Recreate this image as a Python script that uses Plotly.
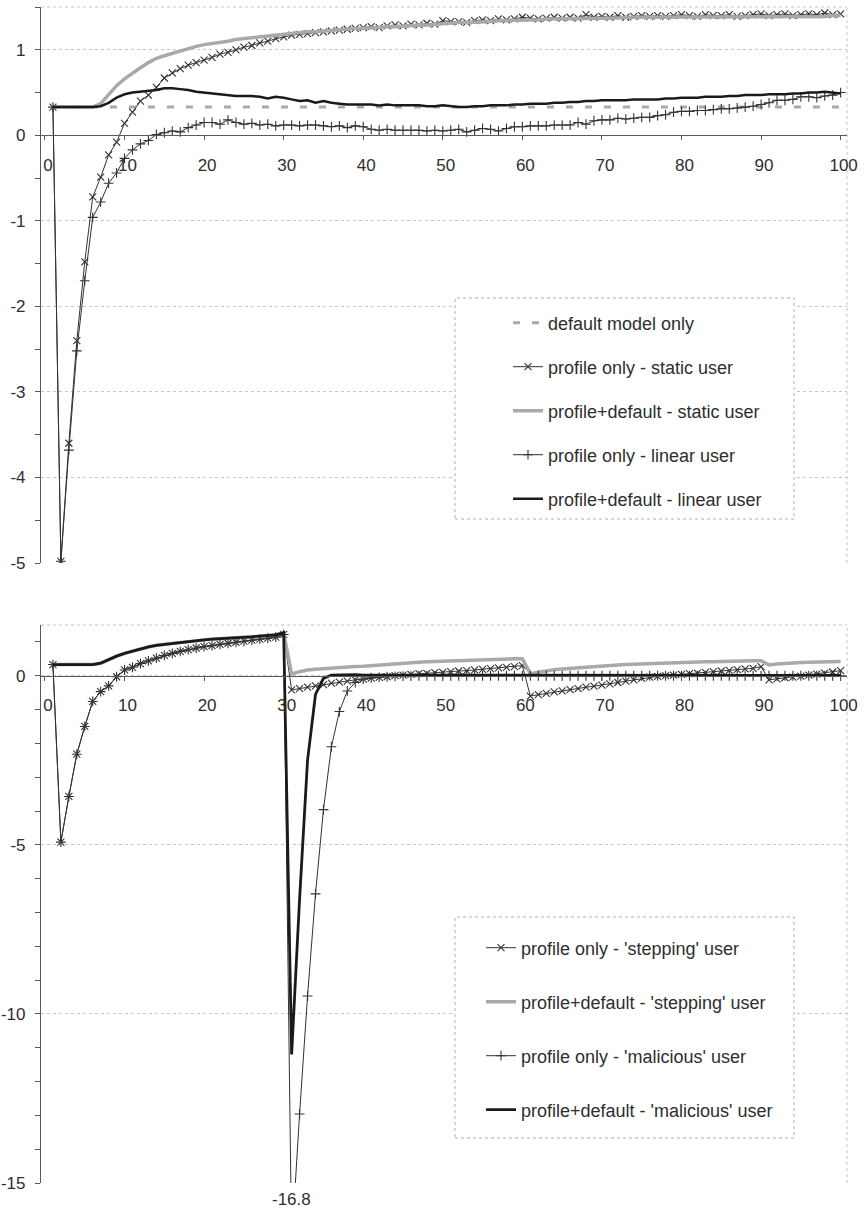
import plotly.graph_objects as go

# ---------------- data ----------------
x_steps = list(range(1, 101))
x_tick_vals = [0, 10, 20, 30, 40, 50, 60, 70, 80, 90, 100]
x_tick_text = ["0", "10", "20", "30", "40", "50", "60", "70", "80", "90", "100"]
top_y_tick_vals = [-5, -4, -3, -2, -1, 0, 1]
top_y_tick_text = ["-5", "-4", "-3", "-2", "-1", "0", "1"]
bot_y_tick_vals = [-15, -10, -5, 0]
bot_y_tick_text = ["-15", "-10", "-5", "0"]

# top chart
default_model_only = [
    0.33, 0.33, 0.33, 0.33, 0.33, 0.33, 0.33, 0.33, 0.33, 0.33,
    0.33, 0.33, 0.33, 0.33, 0.33, 0.33, 0.33, 0.33, 0.33, 0.33,
    0.33, 0.33, 0.33, 0.33, 0.33, 0.33, 0.33, 0.33, 0.33, 0.33,
    0.33, 0.33, 0.33, 0.33, 0.33, 0.33, 0.33, 0.33, 0.33, 0.33,
    0.33, 0.33, 0.33, 0.33, 0.33, 0.33, 0.33, 0.33, 0.33, 0.33,
    0.33, 0.33, 0.33, 0.33, 0.33, 0.33, 0.33, 0.33, 0.33, 0.33,
    0.33, 0.33, 0.33, 0.33, 0.33, 0.33, 0.33, 0.33, 0.33, 0.33,
    0.33, 0.33, 0.33, 0.33, 0.33, 0.33, 0.33, 0.33, 0.33, 0.33,
    0.33, 0.33, 0.33, 0.33, 0.33, 0.33, 0.33, 0.33, 0.33, 0.33,
    0.33, 0.33, 0.33, 0.33, 0.33, 0.33, 0.33, 0.33, 0.33, 0.33,
]
profile_static = [
    0.33, -4.98, -3.60, -2.40, -1.48, -0.72, -0.49, -0.23, -0.08, 0.14,
    0.27, 0.40, 0.47, 0.56, 0.67, 0.73, 0.78, 0.82, 0.85, 0.88,
    0.91, 0.95, 0.97, 1.00, 1.03, 1.05, 1.08, 1.10, 1.13, 1.15,
    1.17, 1.18, 1.19, 1.20, 1.21, 1.22, 1.23, 1.24, 1.25, 1.26,
    1.27, 1.26, 1.28, 1.29, 1.28, 1.30, 1.29, 1.31, 1.30, 1.34,
    1.33, 1.33, 1.32, 1.34, 1.35, 1.34, 1.36, 1.35, 1.36, 1.38,
    1.37, 1.36, 1.37, 1.38, 1.37, 1.38, 1.37, 1.41, 1.38, 1.39,
    1.38, 1.40, 1.38, 1.39, 1.40, 1.39, 1.40, 1.39, 1.40, 1.41,
    1.40, 1.39, 1.41, 1.40, 1.40, 1.41, 1.39, 1.40, 1.41, 1.42,
    1.40, 1.41, 1.42, 1.40, 1.41, 1.42, 1.41, 1.43, 1.41, 1.42,
]
default_static = [
    0.33, 0.33, 0.33, 0.33, 0.33, 0.33, 0.37, 0.48, 0.58, 0.66,
    0.73, 0.79, 0.85, 0.90, 0.93, 0.96, 0.99, 1.02, 1.04, 1.06,
    1.07, 1.09, 1.10, 1.12, 1.13, 1.14, 1.15, 1.16, 1.18, 1.19,
    1.19, 1.20, 1.21, 1.21, 1.22, 1.23, 1.23, 1.24, 1.25, 1.25,
    1.26, 1.26, 1.27, 1.27, 1.28, 1.28, 1.29, 1.29, 1.30, 1.31,
    1.31, 1.32, 1.32, 1.32, 1.33, 1.33, 1.34, 1.34, 1.34, 1.35,
    1.35, 1.35, 1.36, 1.36, 1.36, 1.36, 1.37, 1.37, 1.37, 1.37,
    1.37, 1.37, 1.38, 1.38, 1.38, 1.38, 1.38, 1.38, 1.38, 1.38,
    1.38, 1.38, 1.39, 1.39, 1.39, 1.39, 1.39, 1.39, 1.39, 1.39,
    1.39, 1.39, 1.39, 1.39, 1.39, 1.39, 1.39, 1.39, 1.40, 1.40,
]
profile_linear = [
    0.33, -4.98, -3.68, -2.52, -1.70, -0.96, -0.78, -0.56, -0.44, -0.27,
    -0.17, -0.10, -0.06, 0.01, 0.03, 0.05, 0.04, 0.09, 0.12, 0.15,
    0.15, 0.13, 0.18, 0.15, 0.13, 0.14, 0.12, 0.13, 0.11, 0.12,
    0.12, 0.11, 0.12, 0.12, 0.11, 0.10, 0.11, 0.09, 0.11, 0.10,
    0.07, 0.06, 0.07, 0.06, 0.06, 0.06, 0.06, 0.05, 0.06, 0.05,
    0.06, 0.07, 0.04, 0.06, 0.08, 0.07, 0.05, 0.08, 0.10, 0.10,
    0.11, 0.11, 0.11, 0.12, 0.12, 0.12, 0.15, 0.13, 0.17, 0.18,
    0.18, 0.20, 0.19, 0.20, 0.21, 0.21, 0.23, 0.24, 0.27, 0.28,
    0.28, 0.29, 0.29, 0.30, 0.31, 0.31, 0.32, 0.33, 0.34, 0.36,
    0.38, 0.41, 0.41, 0.42, 0.45, 0.45, 0.44, 0.46, 0.47, 0.50,
]
default_linear = [
    0.33, 0.33, 0.33, 0.33, 0.33, 0.33, 0.34, 0.38, 0.44, 0.48,
    0.50, 0.51, 0.52, 0.53, 0.55, 0.55, 0.54, 0.53, 0.51, 0.50,
    0.49, 0.48, 0.47, 0.46, 0.46, 0.46, 0.45, 0.43, 0.45, 0.44,
    0.42, 0.40, 0.41, 0.38, 0.40, 0.38, 0.37, 0.36, 0.36, 0.36,
    0.36, 0.35, 0.36, 0.35, 0.35, 0.35, 0.35, 0.34, 0.34, 0.35,
    0.34, 0.33, 0.33, 0.34, 0.34, 0.35, 0.35, 0.35, 0.36, 0.36,
    0.37, 0.37, 0.37, 0.38, 0.38, 0.39, 0.39, 0.40, 0.40, 0.41,
    0.41, 0.41, 0.41, 0.42, 0.42, 0.42, 0.42, 0.43, 0.43, 0.44,
    0.44, 0.44, 0.45, 0.45, 0.45, 0.46, 0.46, 0.47, 0.47, 0.47,
    0.48, 0.48, 0.48, 0.49, 0.49, 0.50, 0.50, 0.51, 0.50, 0.49,
]

# bottom chart
profile_stepping = [
    0.33, -4.92, -3.57, -2.32, -1.50, -0.76, -0.47, -0.30, -0.03, 0.17,
    0.25, 0.36, 0.44, 0.52, 0.60, 0.66, 0.72, 0.77, 0.82, 0.86,
    0.89, 0.93, 0.96, 0.99, 1.02, 1.05, 1.08, 1.11, 1.14, 1.22,
    -0.42, -0.38, -0.34, -0.30, -0.26, -0.22, -0.19, -0.16, -0.12, -0.10,
    -0.07, -0.05, -0.03, 0.00, 0.02, 0.04, 0.06, 0.07, 0.09, 0.10,
    0.12, 0.14, 0.15, 0.17, 0.19, 0.21, 0.23, 0.25, 0.27, 0.30,
    -0.60, -0.56, -0.52, -0.48, -0.45, -0.41, -0.38, -0.34, -0.31, -0.28,
    -0.24, -0.20, -0.16, -0.12, -0.08, -0.04, -0.02, 0.00, 0.02, 0.04,
    0.06, 0.08, 0.10, 0.12, 0.14, 0.16, 0.18, 0.20, 0.22, 0.27,
    -0.12, -0.09, -0.06, -0.04, -0.01, 0.02, 0.05, 0.08, 0.11, 0.15,
]
default_stepping = [
    0.33, 0.33, 0.33, 0.33, 0.33, 0.33, 0.37, 0.48, 0.58, 0.66,
    0.73, 0.79, 0.85, 0.90, 0.93, 0.96, 0.99, 1.02, 1.04, 1.06,
    1.08, 1.09, 1.11, 1.12, 1.14, 1.15, 1.17, 1.19, 1.21, 1.27,
    0.05, 0.12, 0.17, 0.19, 0.21, 0.22, 0.24, 0.25, 0.27, 0.28,
    0.30, 0.32, 0.34, 0.36, 0.38, 0.39, 0.40, 0.41, 0.42, 0.42,
    0.43, 0.44, 0.45, 0.45, 0.46, 0.47, 0.48, 0.49, 0.50, 0.50,
    0.06, 0.10, 0.15, 0.18, 0.20, 0.22, 0.24, 0.26, 0.28, 0.30,
    0.31, 0.32, 0.33, 0.34, 0.35, 0.36, 0.37, 0.38, 0.38, 0.39,
    0.40, 0.40, 0.41, 0.41, 0.42, 0.42, 0.43, 0.43, 0.44, 0.44,
    0.32, 0.35, 0.37, 0.38, 0.39, 0.40, 0.41, 0.41, 0.42, 0.42,
]
profile_malicious = [
    0.33, -4.92, -3.57, -2.32, -1.50, -0.76, -0.47, -0.30, -0.03, 0.17,
    0.25, 0.36, 0.44, 0.52, 0.60, 0.66, 0.72, 0.77, 0.82, 0.86,
    0.89, 0.93, 0.96, 0.99, 1.02, 1.05, 1.08, 1.11, 1.14, 1.22,
    -16.8, -12.96, -9.47, -6.45, -3.96, -2.10, -1.06, -0.45, -0.20, -0.10,
    -0.06, -0.04, -0.03, -0.02, -0.01, -0.01, 0.00, 0.00, 0.00, 0.00,
    0.00, 0.00, 0.00, 0.00, 0.00, 0.00, 0.00, 0.00, 0.00, 0.00,
    0.00, 0.00, 0.00, 0.00, 0.00, 0.00, 0.00, 0.00, 0.00, 0.00,
    0.00, 0.00, 0.00, 0.00, 0.00, 0.00, 0.00, 0.00, 0.00, 0.00,
    0.00, 0.00, 0.00, 0.00, 0.00, 0.00, 0.00, 0.00, 0.00, 0.00,
    0.00, 0.00, 0.00, 0.00, 0.00, 0.00, 0.00, 0.00, 0.00, 0.00,
]
default_malicious = [
    0.33, 0.33, 0.33, 0.33, 0.33, 0.33, 0.37, 0.48, 0.58, 0.66,
    0.73, 0.79, 0.85, 0.90, 0.93, 0.96, 0.99, 1.02, 1.04, 1.06,
    1.08, 1.09, 1.11, 1.12, 1.14, 1.15, 1.17, 1.19, 1.21, 1.27,
    -11.2, -6.6, -2.5, -0.55, -0.08, 0.02, 0.03, 0.03, 0.03, 0.02,
    0.02, 0.02, 0.02, 0.02, 0.02, 0.02, 0.02, 0.01, 0.01, 0.01,
    0.01, 0.01, 0.01, 0.01, 0.01, 0.01, 0.01, 0.01, 0.01, 0.01,
    0.01, 0.01, 0.01, 0.01, 0.01, 0.01, 0.01, 0.01, 0.01, 0.01,
    0.01, 0.01, 0.01, 0.01, 0.01, 0.01, 0.01, 0.01, 0.01, 0.01,
    0.01, 0.01, 0.01, 0.01, 0.01, 0.01, 0.01, 0.01, 0.01, 0.01,
    0.01, 0.01, 0.01, 0.01, 0.01, 0.01, 0.01, 0.01, 0.01, 0.01,
]
min_label_x = 31
min_label_text = "-16.8"

# ---------------- style / layout ----------------
W, H = 864, 1210
FONT = "Liberation Sans, Arial, sans-serif"
TXT = "#2e2e2e"
THIN = "#333333"
BLACK = "#1a1a1a"
GRAY = "#a9a9a9"
GRID = "#c4c4c4"
AXIS = "#5a5a5a"
TICK_FS = 17
LEG_FS = 18

x_left_px, x_right_px = 41, 847
top_px, top_bot_px = 7, 563
bot_top_px, bot_bot_px = 625, 1183
x_range = [-0.5, 100.8]
top_range = [-5, 1.5]
bot_range = [-15, 1.5]


def fy(px):
    return 1 - px / H


x_dom = [x_left_px / W, x_right_px / W]
top_dom = [fy(top_bot_px), fy(top_px)]
bot_dom = [fy(bot_bot_px), fy(bot_top_px)]


def zero_pos(dom, rng):
    return dom[0] + (0 - rng[0]) / (rng[1] - rng[0]) * (dom[1] - dom[0])


fig = go.Figure()


def thin_marked(x, y, name, symbol, xa, ya, legend):
    return go.Scatter(
        x=x, y=y, name=name, mode="lines+markers", xaxis=xa, yaxis=ya,
        line=dict(color=THIN, width=1),
        marker=dict(symbol=symbol, size=7, color=THIN,
                    line=dict(color=THIN, width=1.1)),
        legend=legend, legendgroup=name,
    )


def plain(x, y, name, color, width, xa, ya, legend, dash="solid"):
    return go.Scatter(
        x=x, y=y, name=name, mode="lines", xaxis=xa, yaxis=ya,
        line=dict(color=color, width=width, dash=dash),
        legend=legend, legendgroup=name,
    )


# top chart traces
fig.add_trace(plain(x_steps, default_model_only, "default model only", GRAY, 3,
                    "x", "y", "legend", dash="7px,12px"))
fig.add_trace(thin_marked(x_steps, profile_static, "profile only - static user",
                          "x-thin", "x", "y", "legend"))
fig.add_trace(plain(x_steps, default_static, "profile+default - static user", GRAY, 3.5,
                    "x", "y", "legend"))
fig.add_trace(thin_marked(x_steps, profile_linear, "profile only - linear user",
                          "cross-thin", "x", "y", "legend"))
fig.add_trace(plain(x_steps, default_linear, "profile+default - linear user", BLACK, 2.5,
                    "x", "y", "legend"))

# bottom chart traces
fig.add_trace(thin_marked(x_steps, profile_stepping, "profile only - 'stepping' user",
                          "x-thin", "x2", "y2", "legend2"))
fig.add_trace(plain(x_steps, default_stepping, "profile+default - 'stepping' user", GRAY, 3.5,
                    "x2", "y2", "legend2"))
fig.add_trace(thin_marked(x_steps, profile_malicious, "profile only - 'malicious' user",
                          "cross-thin", "x2", "y2", "legend2"))
fig.add_trace(plain(x_steps, default_malicious, "profile+default - 'malicious' user", BLACK, 2.8,
                    "x2", "y2", "legend2"))


def xaxis_cfg(dom_y, rng_y):
    return dict(
        domain=x_dom, range=x_range, anchor="free",
        position=zero_pos(dom_y, rng_y),
        showline=True, linecolor=AXIS, linewidth=1.3,
        showgrid=False, zeroline=False,
        tickmode="array", tickvals=x_tick_vals, ticktext=x_tick_text,
        ticks="outside", ticklen=4, tickcolor=AXIS, tickwidth=1,
        tickfont=dict(family=FONT, size=TICK_FS, color=TXT),
        ticklabelstandoff=10, ticklabelshift=3,
        fixedrange=True, automargin=False,
    )


def yaxis_cfg(dom, rng, tv, tt, minor_dtick, xname):
    return dict(
        domain=dom, range=rng, anchor=xname,
        showline=True, linecolor=AXIS, linewidth=1.2,
        showgrid=True, gridcolor=GRID, griddash="dot", gridwidth=1,
        zeroline=False,
        tickmode="array", tickvals=tv, ticktext=tt,
        ticks="outside", ticklen=5, tickcolor=AXIS, tickwidth=1,
        minor=dict(dtick=minor_dtick, tick0=0, ticks="outside", ticklen=5,
                   tickcolor=AXIS, tickwidth=1, showgrid=False),
        tickfont=dict(family=FONT, size=TICK_FS, color=TXT),
        ticklabelstandoff=6,
        fixedrange=True, automargin=False,
    )


legend_common = dict(
    font=dict(family=FONT, size=LEG_FS, color=TXT),
    bgcolor="rgba(0,0,0,0)", borderwidth=0,
    xanchor="left", yanchor="top", orientation="v",
    itemclick=False, itemdoubleclick=False,
)

fig.update_layout(
    width=W, height=H,
    margin=dict(l=0, r=0, t=0, b=0),
    paper_bgcolor="white", plot_bgcolor="white",
    showlegend=True,
    xaxis=xaxis_cfg(top_dom, top_range),
    yaxis=yaxis_cfg(top_dom, top_range, top_y_tick_vals, top_y_tick_text, 0.5, "x"),
    xaxis2=xaxis_cfg(bot_dom, bot_range),
    yaxis2=yaxis_cfg(bot_dom, bot_range, bot_y_tick_vals, bot_y_tick_text, 1, "x2"),
    legend=dict(legend_common, x=508 / W, y=fy(304.5), tracegroupgap=17.6),
    legend2=dict(legend_common, x=481 / W, y=fy(929.5), tracegroupgap=27.6),
)

# plot-area border (top and right, dotted) and legend boxes
for xr, yr in (("x domain", "y domain"), ("x2 domain", "y2 domain")):
    fig.add_shape(type="line", xref=xr, yref=yr, x0=0, x1=1, y0=1, y1=1,
                  line=dict(color=GRID, width=1, dash="dot"), layer="below")
    fig.add_shape(type="line", xref=xr, yref=yr, x0=1, x1=1, y0=0, y1=1,
                  line=dict(color=GRID, width=1, dash="dot"), layer="below")

for (lx0, ly0, lx1, ly1) in ((455, 298, 794, 519), (455, 917, 794, 1138)):
    fig.add_shape(type="rect", xref="paper", yref="paper",
                  x0=lx0 / W, x1=lx1 / W, y0=fy(ly1), y1=fy(ly0),
                  fillcolor="white", line=dict(color="#b0b0b0", width=1, dash="dot"),
                  layer="above")

fig.add_annotation(x=min_label_x, y=bot_range[0], xref="x2", yref="y2",
                   text=min_label_text, showarrow=False, yanchor="top",
                   yshift=-5, font=dict(family=FONT, size=TICK_FS, color=TXT))

fig.write_html("out.html")
